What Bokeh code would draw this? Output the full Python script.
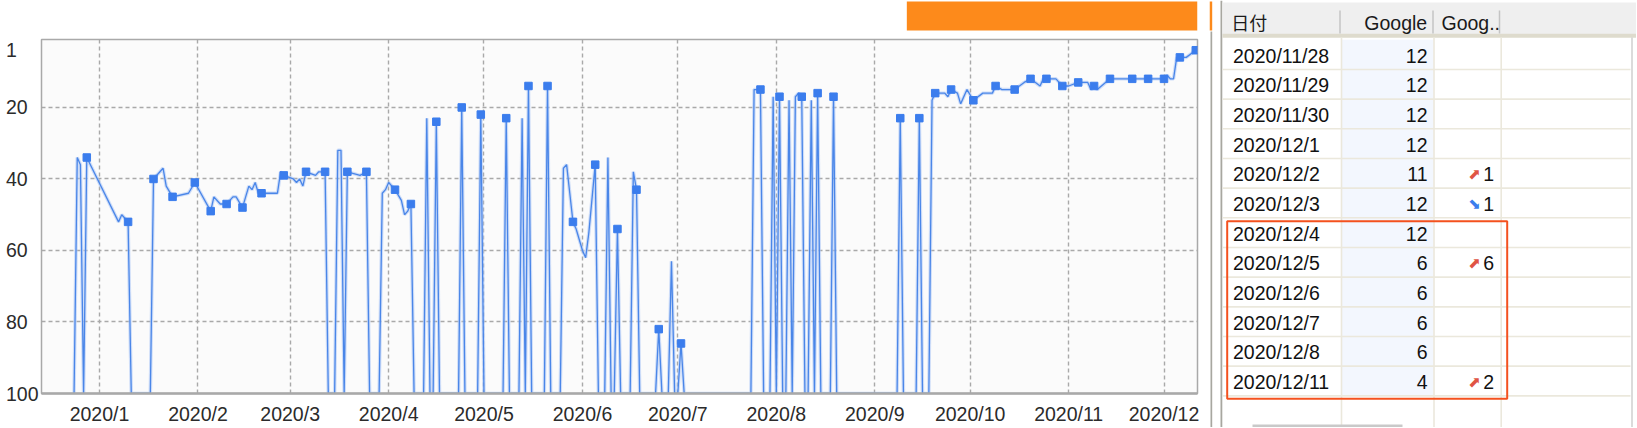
import numpy as np
import pandas as pd
from bokeh.plotting import figure
from bokeh.layouts import row, column
from bokeh.models import Range1d, FixedTicker, ColumnDataSource
from bokeh.embed import file_html
from bokeh.resources import INLINE
from bokeh.core.properties import value

# ---------------- data ----------------
dates = [
    "2019-12-24", "2019-12-25", "2019-12-26", "2019-12-27", "2019-12-28",
    "2020-01-07", "2020-01-08", "2020-01-09", "2020-01-10", "2020-01-11",
    "2020-01-17", "2020-01-18", "2020-01-21", "2020-01-22", "2020-01-24",
    "2020-01-29", "2020-01-31", "2020-02-05", "2020-02-06", "2020-02-08",
    "2020-02-10", "2020-02-12", "2020-02-13", "2020-02-15", "2020-02-16",
    "2020-02-17", "2020-02-18", "2020-02-19", "2020-02-20", "2020-02-21",
    "2020-02-26", "2020-02-27", "2020-02-28", "2020-03-02", "2020-03-03",
    "2020-03-04", "2020-03-05", "2020-03-06", "2020-03-09", "2020-03-10",
    "2020-03-12", "2020-03-13", "2020-03-15", "2020-03-16", "2020-03-17",
    "2020-03-18", "2020-03-19", "2020-03-23", "2020-03-25", "2020-03-26",
    "2020-03-29", "2020-03-30", "2020-03-31", "2020-04-01", "2020-04-03",
    "2020-04-05", "2020-04-06", "2020-04-07", "2020-04-08", "2020-04-09",
    "2020-04-12", "2020-04-13", "2020-04-14", "2020-04-15", "2020-04-16",
    "2020-04-17", "2020-04-23", "2020-04-24", "2020-04-25", "2020-04-29",
    "2020-04-30", "2020-05-01", "2020-05-07", "2020-05-08", "2020-05-09",
    "2020-05-12", "2020-05-13", "2020-05-14", "2020-05-15", "2020-05-16",
    "2020-05-20", "2020-05-21", "2020-05-22", "2020-05-25", "2020-05-26",
    "2020-05-27", "2020-05-28", "2020-05-29", "2020-05-30", "2020-06-01",
    "2020-06-02", "2020-06-03", "2020-06-05", "2020-06-06", "2020-06-08",
    "2020-06-09", "2020-06-10", "2020-06-11", "2020-06-12", "2020-06-13",
    "2020-06-16", "2020-06-17", "2020-06-18", "2020-06-19", "2020-06-24",
    "2020-06-25", "2020-06-26", "2020-06-28", "2020-06-29", "2020-06-30",
    "2020-07-01", "2020-07-02", "2020-07-03", "2020-07-24", "2020-07-25",
    "2020-07-26", "2020-07-27", "2020-07-28", "2020-07-30", "2020-07-31",
    "2020-08-01", "2020-08-02", "2020-08-03", "2020-08-04", "2020-08-05",
    "2020-08-06", "2020-08-07", "2020-08-08", "2020-08-09", "2020-08-10",
    "2020-08-11", "2020-08-12", "2020-08-13", "2020-08-14", "2020-08-15",
    "2020-08-18", "2020-08-19", "2020-08-20", "2020-09-08", "2020-09-09",
    "2020-09-10", "2020-09-14", "2020-09-15", "2020-09-16", "2020-09-18",
    "2020-09-19", "2020-09-20", "2020-09-23", "2020-09-24", "2020-09-25",
    "2020-09-27", "2020-09-28", "2020-09-30", "2020-10-02", "2020-10-05",
    "2020-10-08", "2020-10-09", "2020-10-11", "2020-10-15", "2020-10-18",
    "2020-10-20", "2020-10-23", "2020-10-24", "2020-10-25", "2020-10-28",
    "2020-10-30", "2020-11-01", "2020-11-04", "2020-11-07", "2020-11-08",
    "2020-11-09", "2020-11-10", "2020-11-14", "2020-11-21", "2020-11-26",
    "2020-11-28", "2020-11-29", "2020-11-30", "2020-12-01", "2020-12-02",
    "2020-12-03", "2020-12-04", "2020-12-05", "2020-12-06", "2020-12-07",
    "2020-12-08", "2020-12-11",
]
ranks = [
    100, 34, 36, 100, 34,
    52, 50, 51, 52, 100,
    100, 40, 37, 42, 45,
    44, 41, 49, 45, 47,
    47, 45, 45, 48, 45,
    42, 43, 41, 44, 44,
    44, 38, 39, 40, 41,
    40, 42, 38, 39, 38,
    38, 100, 100, 32, 32,
    100, 38, 39, 38, 100,
    100, 44, 43, 41, 43,
    46, 50, 49, 47, 100,
    100, 23, 100, 100, 24,
    100, 100, 20, 100, 100,
    22, 100, 100, 23, 100,
    100, 23, 100, 14, 100,
    100, 14, 100, 100, 37,
    36, 44, 52, 54, 60,
    62, 55, 36, 100, 100,
    34, 100, 100, 54, 100,
    100, 38, 43, 100, 100,
    82, 100, 100, 63, 100,
    100, 86, 100, 100, 15,
    15, 15, 100, 100, 17,
    100, 17, 100, 100, 18,
    100, 17, 16, 17, 100,
    100, 18, 100, 16, 100,
    100, 17, 100, 100, 23,
    100, 100, 23, 100, 100,
    18, 16, 16, 17, 15,
    16, 19, 15, 18, 16,
    16, 14, 15, 15, 13,
    12, 14, 12, 12, 12,
    14, 14, 13, 13, 15,
    14, 15, 12, 12, 12,
    12, 12, 12, 12, 11,
    12, 12, 6, 6, 6,
    6, 4,
]
marks = [
    0, 0, 0, 0, 1,
    0, 0, 0, 1, 0,
    0, 1, 0, 0, 1,
    0, 1, 1, 0, 0,
    1, 0, 0, 1, 0,
    0, 0, 0, 0, 1,
    0, 0, 1, 0, 0,
    0, 0, 1, 0, 0,
    1, 0, 0, 0, 0,
    0, 1, 0, 1, 0,
    0, 0, 0, 0, 1,
    0, 0, 0, 1, 0,
    0, 0, 0, 0, 1,
    0, 0, 1, 0, 0,
    1, 0, 0, 1, 0,
    0, 0, 0, 1, 0,
    0, 1, 0, 0, 0,
    0, 0, 1, 0, 0,
    0, 0, 1, 0, 0,
    0, 0, 0, 1, 0,
    0, 0, 1, 0, 0,
    1, 0, 0, 0, 0,
    0, 1, 0, 0, 0,
    0, 1, 0, 0, 0,
    0, 1, 0, 0, 0,
    0, 0, 0, 1, 0,
    0, 0, 0, 1, 0,
    0, 1, 0, 0, 1,
    0, 0, 1, 0, 0,
    0, 1, 0, 0, 1,
    0, 0, 0, 1, 0,
    0, 1, 0, 1, 0,
    1, 0, 0, 1, 0,
    1, 0, 1, 0, 0,
    1, 0, 1, 1, 1,
    0, 0, 0, 1, 0,
    0, 0, 0, 1, 0,
    0, 1,
]

y_ticks = [1, 20, 40, 60, 80, 100]
x_tick_labels = ["2020/1", "2020/2", "2020/3", "2020/4", "2020/5", "2020/6",
                 "2020/7", "2020/8", "2020/9", "2020/10", "2020/11", "2020/12"]
table_header = ["日付", "Google", "Goog.."]
table_rows = 12

# ---------------- styles ----------------
FONT = "Liberation Sans"
FS = "19.5px"
LINE_C = "#4a86e8"
MARK_C = "#3b7ded"
GRID_C = "#a9a9a9"
TXT_C = "#2b2b2b"
TOTAL_H = 427
STRIP_H = 38
W1 = 1209
W2 = 1636 - W1

s = pd.DataFrame({"date": pd.to_datetime(dates), "rank": ranks, "mark": marks})
s["chg"] = s["rank"].shift(1) - s["rank"]
src = ColumnDataSource(s)
msrc = ColumnDataSource(s[s["mark"] == 1])

month_ts = pd.to_datetime([l + "/1" for l in x_tick_labels], format="%Y/%m/%d")
month_ms = [t.timestamp() * 1000 for t in month_ts]

# ---------------- strip above chart (orange bar) ----------------
st = figure(width=W1, height=STRIP_H, x_range=Range1d(0, W1), y_range=Range1d(STRIP_H, 0),
            x_axis_location=None, y_axis_location=None, min_border=0,
            output_backend="svg", toolbar_location=None)
st.xgrid.visible = False
st.ygrid.visible = False
st.outline_line_color = None
st.background_fill_color = "white"
st.border_fill_color = "white"
st.quad(left=905, right=W1, top=1, bottom=30, fill_color="#fd8a1b", line_color=None)

# ---------------- chart ----------------
p = figure(width=W1, height=TOTAL_H - STRIP_H, x_axis_type="datetime",
           x_range=Range1d(pd.Timestamp("2019-12-13 18:00"), pd.Timestamp("2020-12-11 13:00")),
           y_range=Range1d(100, 1),
           min_border_left=41, min_border_right=12, min_border_top=1, min_border_bottom=34,
           output_backend="svg", toolbar_location=None)
p.background_fill_color = "#fbfbfb"
p.border_fill_color = "white"
p.outline_line_color = GRID_C
p.outline_line_width = 1.5

p.xaxis.ticker = FixedTicker(ticks=month_ms)
p.xaxis.major_label_overrides = {ms: lbl for ms, lbl in zip(month_ms, x_tick_labels)}
p.yaxis.ticker = FixedTicker(ticks=y_ticks)
width_digits = max(len(str(t)) for t in y_ticks)
p.yaxis.major_label_overrides = {t: str(t) + "\u2007" * (width_digits - len(str(t))) for t in y_ticks}

for ax in (p.xaxis, p.yaxis):
    ax.major_tick_line_color = None
    ax.minor_tick_line_color = None
    ax.major_tick_out = 0
    ax.major_tick_in = 0
    ax.major_label_text_font = FONT
    ax.major_label_text_font_size = FS
    ax.major_label_text_color = TXT_C
p.xaxis.axis_line_color = GRID_C
p.xaxis.axis_line_width = 2.5
p.xaxis.major_label_standoff = 9
p.yaxis.axis_line_color = None
p.yaxis.major_label_standoff = 3

for g in (p.xgrid, p.ygrid):
    g.grid_line_color = GRID_C
    g.grid_line_dash = "4 3"
    g.grid_line_width = 1.4

p.line("date", "rank", source=src, line_color="#a9c5f5", line_width=3.5, line_alpha=0.55)
p.line("date", "rank", source=src, line_color=LINE_C, line_width=1.3)
p.scatter("date", "rank", source=msrc, marker="square", size=7.5,
          fill_color=MARK_C, line_color=MARK_C)

# ---------------- table ----------------
tab = s.tail(table_rows).reset_index(drop=True)
n = len(tab)
ROW0, ROWH = 39.3, 29.67
tops = ROW0 + ROWH * np.arange(n)
centers = tops + ROWH / 2 + 1
tab["label"] = [f"{d.year}/{d.month}/{d.day}" for d in tab["date"]]
tab["val"] = [str(v) for v in tab["rank"]]
tab["cy"] = centers
chg = tab["chg"].fillna(0).astype(int)
tab["chgtxt"] = [str(abs(c)) if c != 0 else "" for c in chg]
tab["arrow"] = ["⬈" if c > 0 else ("⬊" if c < 0 else "") for c in chg]
tab["acol"] = ["#e05444" if c > 0 else "#3b7ded" for c in chg]
tsrc = ColumnDataSource(tab.drop(columns=["date"]))

t = figure(width=W2, height=TOTAL_H, x_range=Range1d(W1, 1636), y_range=Range1d(TOTAL_H, 0),
           x_axis_location=None, y_axis_location=None, min_border=0,
           output_backend="svg", toolbar_location=None)
t.xgrid.visible = False
t.ygrid.visible = False
t.outline_line_color = None
t.background_fill_color = "white"
t.border_fill_color = "white"

# splitter
t.quad(left=W1, right=1211.7, top=1, bottom=30, fill_color="#fd8a1b", line_color=None)
t.quad(left=1210, right=1211.7, top=31, bottom=TOTAL_H, fill_color="#a8a7a0", line_color=None)
t.quad(left=1220, right=1221.8, top=0, bottom=TOTAL_H, fill_color="#a8a7a0", line_color=None)
# header
t.quad(left=1222, right=1636, top=2, bottom=33.5, fill_color="#efefef", line_color=None)
t.quad(left=1222, right=1636, top=33.3, bottom=37.3, fill_color="#dedbcd", line_color=None)
t.segment(x0=[1339.5, 1432.5, 1499], x1=[1339.5, 1432.5, 1499], y0=10, y1=33,
          line_color="#c4c4c4", line_width=1.5)
# body
t.quad(left=1341.5, right=1433, top=ROW0, bottom=ROW0 + n * ROWH,
       fill_color="#f3f7fe", line_color=None)
row_lines = ROW0 + ROWH * np.arange(1, n + 1)
t.segment(x0=1222, x1=1630, y0=row_lines, y1=row_lines, line_color="#ebe8dc", line_width=1.6)
t.segment(x0=[1341, 1433.5, 1500.7], x1=[1341, 1433.5, 1500.7], y0=37.3, y1=TOTAL_H,
          line_color="#ebe8dc", line_width=1.6)
# scrollbars
t.segment(x0=[1631.5], x1=[1631.5], y0=37, y1=TOTAL_H, line_color="#cfcfcf", line_width=1.5)
t.quad(left=1252, right=1402, top=424, bottom=TOTAL_H, fill_color="#c9c9c9", line_color=None)

t.text(x=[1230.7], y=[21.5], text=[table_header[0]], text_font=value("Noto Sans CJK JP"),
       text_font_size="18px", text_baseline="middle", text_align="left", text_color="#1a1a1a")
t.text(x=[1426.7], y=[22], text=[table_header[1]], text_font=value(FONT),
       text_font_size=FS, text_baseline="middle", text_align="right", text_color="#1a1a1a")
t.text(x=[1441], y=[22], text=[table_header[2]], text_font=value(FONT),
       text_font_size=FS, text_baseline="middle", text_align="left", text_color="#1a1a1a")

t.text(x=1232.5, y="cy", text="label", source=tsrc, text_font=value(FONT), text_font_size=FS,
       text_baseline="middle", text_align="left", text_color="#111111")
t.text(x=1427, y="cy", text="val", source=tsrc, text_font=value(FONT), text_font_size=FS,
       text_baseline="middle", text_align="right", text_color="#111111")
t.text(x=1493.5, y="cy", text="chgtxt", source=tsrc, text_font=value(FONT), text_font_size=FS,
       text_baseline="middle", text_align="right", text_color="#111111")
t.text(x=1474, y="cy", text="arrow", source=tsrc, text_font=value("DejaVu Sans"),
       text_font_size="15px", text_baseline="middle",
       text_align="center", text_color="acol")

# highlight box around the last six rows
hl_top = tops[n - 6] + 3.4
t.quad(left=1226.7, right=1506.7, top=hl_top, bottom=ROW0 + n * ROWH + 3,
       fill_color=None, line_color="#f4511e", line_width=2)

layout = row(column(st, p), t)
open("out.html", "w").write(file_html(layout, INLINE))
